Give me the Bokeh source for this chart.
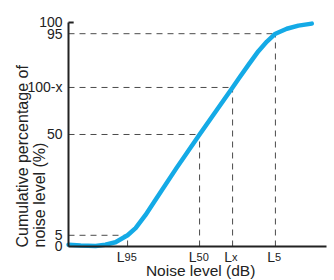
import math
from bokeh.plotting import figure
from bokeh.models import FixedTicker, ColumnDataSource
from bokeh.core.properties import value
from bokeh.embed import file_html
from bokeh.resources import INLINE

# Cumulative distribution curve (noise level, cumulative %)
curve_x = [0, 4.7, 10.5, 14.3, 18.2, 22.9, 26.0, 29.8, 33.1, 41.9, 50.8, 57.2, 63.6,
           66.0, 69.8, 73.6, 76.9, 80.2, 84.6, 89.1, 94.3]
curve_y = [0.8, 0.4, 0.2, 0.8, 1.9, 5, 8.2, 14.0, 19.7, 35.1, 50, 60.5, 71,
           75.0, 81.2, 87.2, 91.5, 95, 97.2, 98.6, 99.5]

# Percentile levels and their cumulative percentages
level_x = [22.9, 50.8, 63.6, 80.2]
level_y = [5, 50, 71, 95]
level_main = ["L", "L", "L", "L"]
level_sub = ["95", "50", "x", "5"]

y_ticks = [0, 5, 50, 71, 95, 100]
y_tick_labels = ["0", "5", "50", "100-x", "95", "100"]

FONT = "Liberation Sans"
BLUE = "#14aae6"
INK = "#222222"
DASH = "#4a4a4a"

# frame covers the whole figure; axes are pinned at 0
p = figure(width=334, height=280, x_range=(-26.36, 103.1), y_range=(-15.18, 109.82),
           output_backend="svg", toolbar_location=None,
           min_border_left=0, min_border_right=0, min_border_top=0, min_border_bottom=0)
p.outline_line_color = None
p.grid.visible = False
p.background_fill_color = "white"
p.border_fill_color = "white"

# dashed guide lines
src = ColumnDataSource(dict(x=level_x, y=level_y, zx=[0] * len(level_x), zy=[0] * len(level_y)))
p.segment(x0="zx", y0="y", x1="x", y1="y", source=src, line_color=DASH,
          line_width=1, line_dash="6 5")
p.segment(x0="x", y0="zy", x1="x", y1="y", source=src, line_color=DASH,
          line_width=1, line_dash="6 5")

# curve
p.line(curve_x, curve_y, line_color=BLUE, line_width=4.5, line_cap="round", line_join="round")

# small tick at top of y-axis
p.segment(x0=[0], y0=[100], x1=[2.0], y1=[100], line_color=INK, line_width=2)

# axes
xa = p.xaxis[0]
xa.fixed_location = 0
xa.bounds = (0, 100)
xa.ticker = FixedTicker(ticks=[])
xa.major_tick_line_color = None
xa.minor_tick_line_color = None
xa.axis_line_color = INK
xa.axis_line_width = 2

ya = p.yaxis[0]
ya.fixed_location = 0
ya.bounds = (0, 100)
ya.ticker = FixedTicker(ticks=y_ticks)
ya.major_label_overrides = {v: s for v, s in zip(y_ticks, y_tick_labels)}
ya.major_tick_line_color = None
ya.minor_tick_line_color = None
ya.major_tick_in = 0
ya.major_tick_out = 0
ya.axis_line_color = INK
ya.axis_line_width = 2
ya.major_label_standoff = 6
ya.major_label_text_font = FONT
ya.major_label_text_font_size = "14px"
ya.major_label_text_color = INK

# x tick labels: "L" with smaller subscript
lab = ColumnDataSource(dict(
    x=level_x, y=[-4.9] * len(level_x), main=level_main, sub=level_sub,
    off=[2 - 2.5 * len(s) for s in level_sub]))
p.text(x="x", y="y", text="main", x_offset="off", source=lab, text_align="right",
       text_baseline="alphabetic", text_font=value(FONT), text_font_size="14px",
       text_color=INK)
p.text(x="x", y="y", text="sub", x_offset="off", source=lab, text_align="left",
       text_baseline="alphabetic", text_font=value(FONT), text_font_size="11px",
       text_color=INK)

# axis titles
p.text(x=[51.2], y=[-10.7], text=["Noise level (dB)"], text_font=value(FONT),
       text_font_size="15.5px", text_color=INK, text_align="center",
       text_baseline="alphabetic")
p.text(x=[-18.0], y=[-0.45], text=["Cumulative percentage of"], angle=math.pi / 2,
       text_font=value(FONT), text_font_size="16px", text_color=INK,
       text_align="left", text_baseline="middle")
p.text(x=[-11.2], y=[-0.45], text=["noise level (%)"], angle=math.pi / 2,
       text_font=value(FONT), text_font_size="16px", text_color=INK,
       text_align="left", text_baseline="middle")

open("out.html", "w").write(file_html(p, INLINE))
